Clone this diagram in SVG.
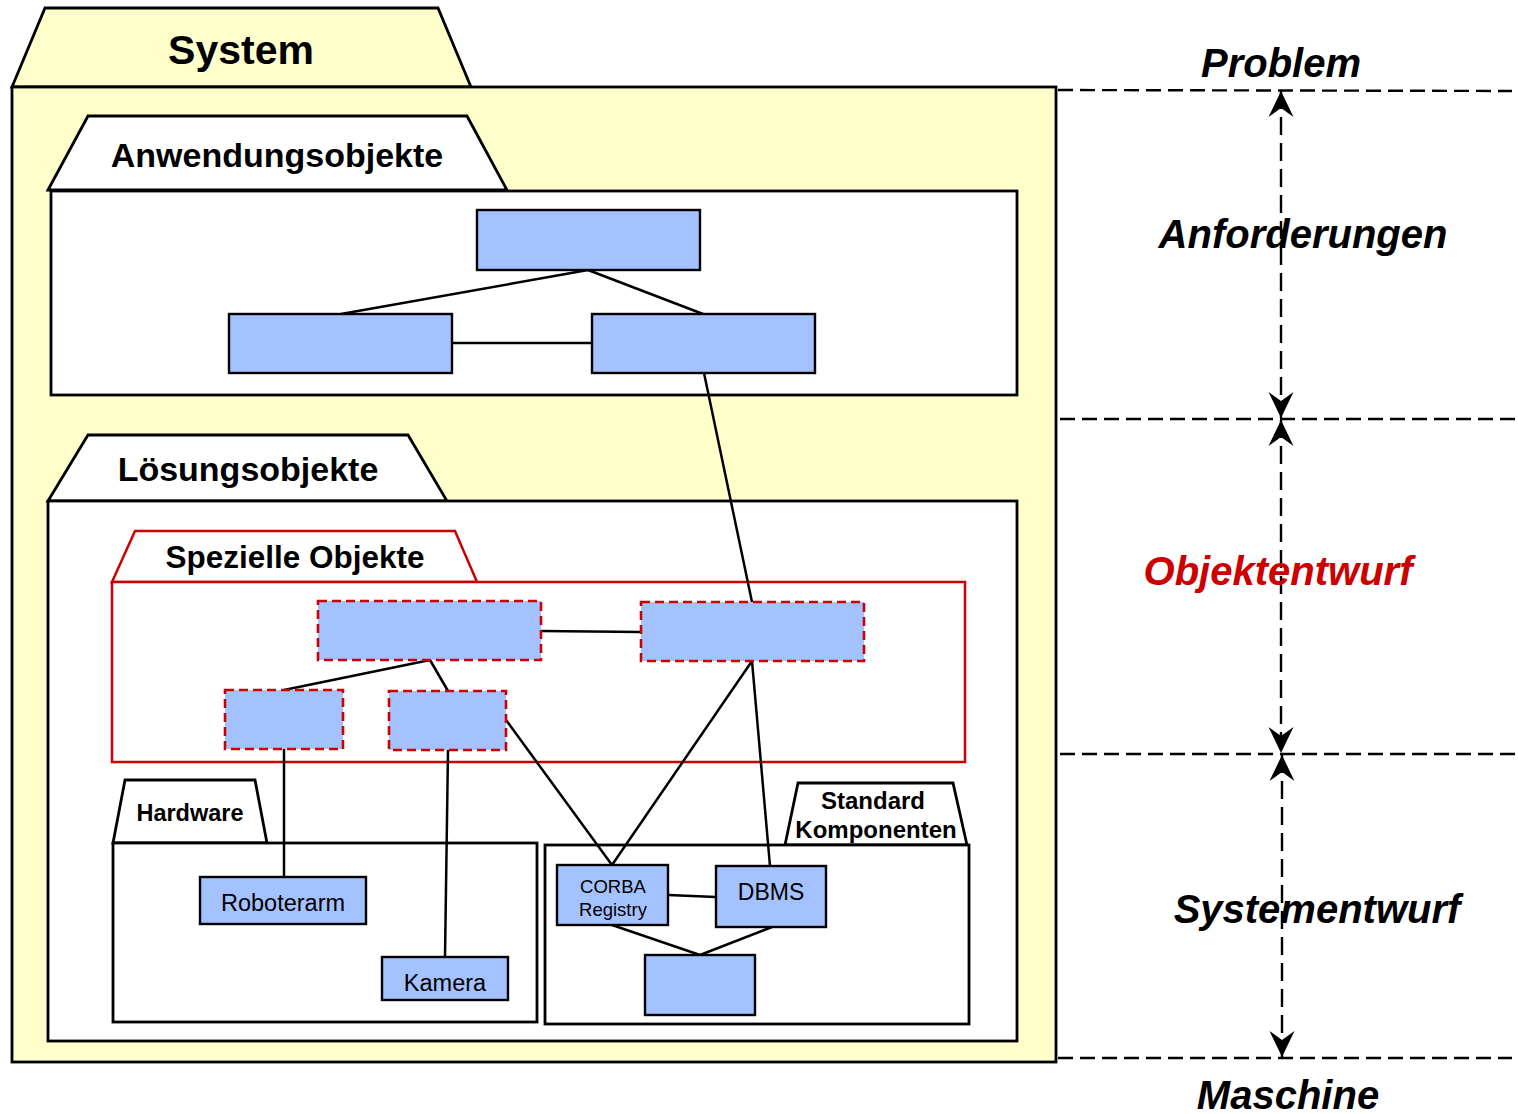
<svg xmlns="http://www.w3.org/2000/svg" width="1518" height="1114" viewBox="0 0 1518 1114">
  <style>
    .pkg { fill: #FFFFFF; stroke: #000000; stroke-width: 2.8; stroke-linejoin: miter; }
    .sys { fill: #FFFFCC; stroke: #000000; stroke-width: 2.8; }
    .red { fill: #FFFFFF; stroke: #CC0000; stroke-width: 2.5; }
    .obj { fill: #A4C2FF; stroke: #000000; stroke-width: 2.4; }
    .spec { fill: #A4C2FF; stroke: #CC0000; stroke-width: 2.6; stroke-dasharray: 9 5; }
    .conn { stroke: #000000; stroke-width: 2.5; fill: none; }
    .level { stroke: #000000; stroke-width: 2.4; stroke-dasharray: 15 7; fill: none; }
    .span { stroke: #000000; stroke-width: 2.4; stroke-dasharray: 18 8; fill: none; }
    .t { font-family: "Liberation Sans", Arial, sans-serif; fill: #000000; text-anchor: middle; }
    .b { font-weight: bold; }
    .phase { font-family: "Liberation Sans", Arial, sans-serif; font-weight: bold; font-style: italic; font-size: 40px; text-anchor: middle; fill: #000000; }
  </style>
  <defs>
    <marker id="head" markerUnits="userSpaceOnUse" markerWidth="28" markerHeight="28" viewBox="-27 -14 28 28" refX="0" refY="0" orient="auto-start-reverse">
      <path d="M0,0 L-26,-12.5 L-17,0 L-26,12.5 Z" fill="#000000"/>
    </marker>
  </defs>

  <!-- System package -->
  <g id="system">
    <polygon class="sys" points="12,87 45,8 438,8 471,87"/>
    <rect class="sys" x="12" y="87" width="1044" height="975"/>
    <text class="t b" x="241" y="64" font-size="41">System</text>
  </g>

  <!-- Application objects package -->
  <g id="anwendungsobjekte">
    <polygon class="pkg" points="48,190 88,116 467,116 507,190"/>
    <rect class="pkg" x="51" y="191" width="966" height="204"/>
    <text class="t b" x="277" y="167" font-size="34">Anwendungsobjekte</text>
  </g>

  <!-- Solution objects package -->
  <g id="loesungsobjekte">
    <polygon class="pkg" points="48,501 88,435 408,435 447,501"/>
    <rect class="pkg" x="48" y="501" width="969" height="540"/>
    <text class="t b" x="248" y="481" font-size="34">Lösungsobjekte</text>
  </g>

  <!-- Special objects package -->
  <g id="spezielle-objekte">
    <polygon class="red" points="112,582 135,531 455,531 477,582"/>
    <rect class="red" x="112" y="582" width="853" height="180"/>
    <text class="t b" x="295" y="568" font-size="31.5">Spezielle Objekte</text>
  </g>

  <!-- Hardware package -->
  <g id="hardware">
    <polygon class="pkg" points="113,843 125,780 255,780 267,843"/>
    <rect class="pkg" x="113" y="843" width="424" height="179"/>
    <text class="t b" x="190" y="821" font-size="23.5">Hardware</text>
  </g>

  <!-- Standard components package -->
  <g id="standard-komponenten">
    <polygon class="pkg" points="785,845 798,783 953,783 967,845"/>
    <rect class="pkg" x="545" y="845" width="424" height="179"/>
    <text class="t b" x="873" y="809" font-size="24">Standard</text>
    <text class="t b" x="876" y="838" font-size="24">Komponenten</text>
  </g>

  <!-- Connectors -->
  <g id="connectors">
    <line class="conn" x1="588" y1="270" x2="341" y2="314"/>
    <line class="conn" x1="588" y1="270" x2="703" y2="314"/>
    <line class="conn" x1="452" y1="343" x2="592" y2="343"/>
    <line class="conn" x1="704" y1="373" x2="752" y2="602"/>
    <line class="conn" x1="541" y1="631" x2="641" y2="632"/>
    <line class="conn" x1="430" y1="660" x2="284" y2="690"/>
    <line class="conn" x1="430" y1="660" x2="448" y2="691"/>
    <line class="conn" x1="752" y1="661" x2="612" y2="865"/>
    <line class="conn" x1="752" y1="661" x2="770" y2="866"/>
    <line class="conn" x1="506" y1="720" x2="612" y2="865"/>
    <line class="conn" x1="284" y1="749" x2="284" y2="877"/>
    <line class="conn" x1="448" y1="750" x2="445" y2="957"/>
    <line class="conn" x1="668" y1="895" x2="716" y2="897"/>
    <line class="conn" x1="612" y1="925" x2="700" y2="955"/>
    <line class="conn" x1="772" y1="927" x2="700" y2="955"/>
  </g>

  <!-- Application object classes -->
  <g id="a-top"><rect class="obj" x="477" y="210" width="223" height="60"/></g>
  <g id="a-left"><rect class="obj" x="229" y="314" width="223" height="59"/></g>
  <g id="a-right"><rect class="obj" x="592" y="314" width="223" height="59"/></g>

  <!-- Special object classes -->
  <g id="s-top-left"><rect class="spec" x="318" y="601" width="223" height="59"/></g>
  <g id="s-top-right"><rect class="spec" x="641" y="602" width="223" height="59"/></g>
  <g id="s-bottom-left"><rect class="spec" x="225" y="690" width="118" height="59"/></g>
  <g id="s-bottom-mid"><rect class="spec" x="389" y="691" width="117" height="59"/></g>

  <!-- Hardware classes -->
  <g id="roboterarm">
    <rect class="obj" x="200" y="877" width="166" height="47"/>
    <text class="t" x="283" y="910.5" font-size="23.5">Roboterarm</text>
  </g>
  <g id="kamera">
    <rect class="obj" x="382" y="957" width="126" height="43"/>
    <text class="t" x="445" y="991" font-size="23.5">Kamera</text>
  </g>

  <!-- Standard component classes -->
  <g id="corba">
    <rect class="obj" x="557" y="865" width="111" height="60"/>
    <text class="t" x="613" y="893" font-size="18.5">CORBA</text>
    <text class="t" x="613" y="916" font-size="18.5">Registry</text>
  </g>
  <g id="dbms">
    <rect class="obj" x="716" y="866" width="110" height="61"/>
    <text class="t" x="771" y="900" font-size="23">DBMS</text>
  </g>
  <g id="k-bottom"><rect class="obj" x="645" y="955" width="110" height="60"/></g>

  <!-- Abstraction levels -->
  <g id="levels">
    <line class="level" x1="1058" y1="90" x2="1512" y2="91"/>
    <line class="level" x1="1060" y1="419" x2="1518" y2="419"/>
    <line class="level" x1="1060" y1="754" x2="1518" y2="754"/>
    <line class="level" x1="1058" y1="1058" x2="1512" y2="1058"/>
    <line class="span" x1="1281" y1="91" x2="1281" y2="418" marker-start="url(#head)" marker-end="url(#head)"/>
    <line class="span" x1="1281" y1="420" x2="1281" y2="753" marker-start="url(#head)" marker-end="url(#head)"/>
    <line class="span" x1="1282" y1="755" x2="1282" y2="1057" marker-start="url(#head)" marker-end="url(#head)"/>
  </g>

  <!-- Level labels -->
  <g id="labels">
    <text class="phase" x="1281" y="77">Problem</text>
    <text class="phase" x="1303" y="248">Anforderungen</text>
    <text class="phase" x="1278" y="585" style="fill:#CC0000">Objektentwurf</text>
    <text class="phase" x="1317" y="923">Systementwurf</text>
    <text class="phase" x="1288" y="1109">Maschine</text>
  </g>
</svg>
